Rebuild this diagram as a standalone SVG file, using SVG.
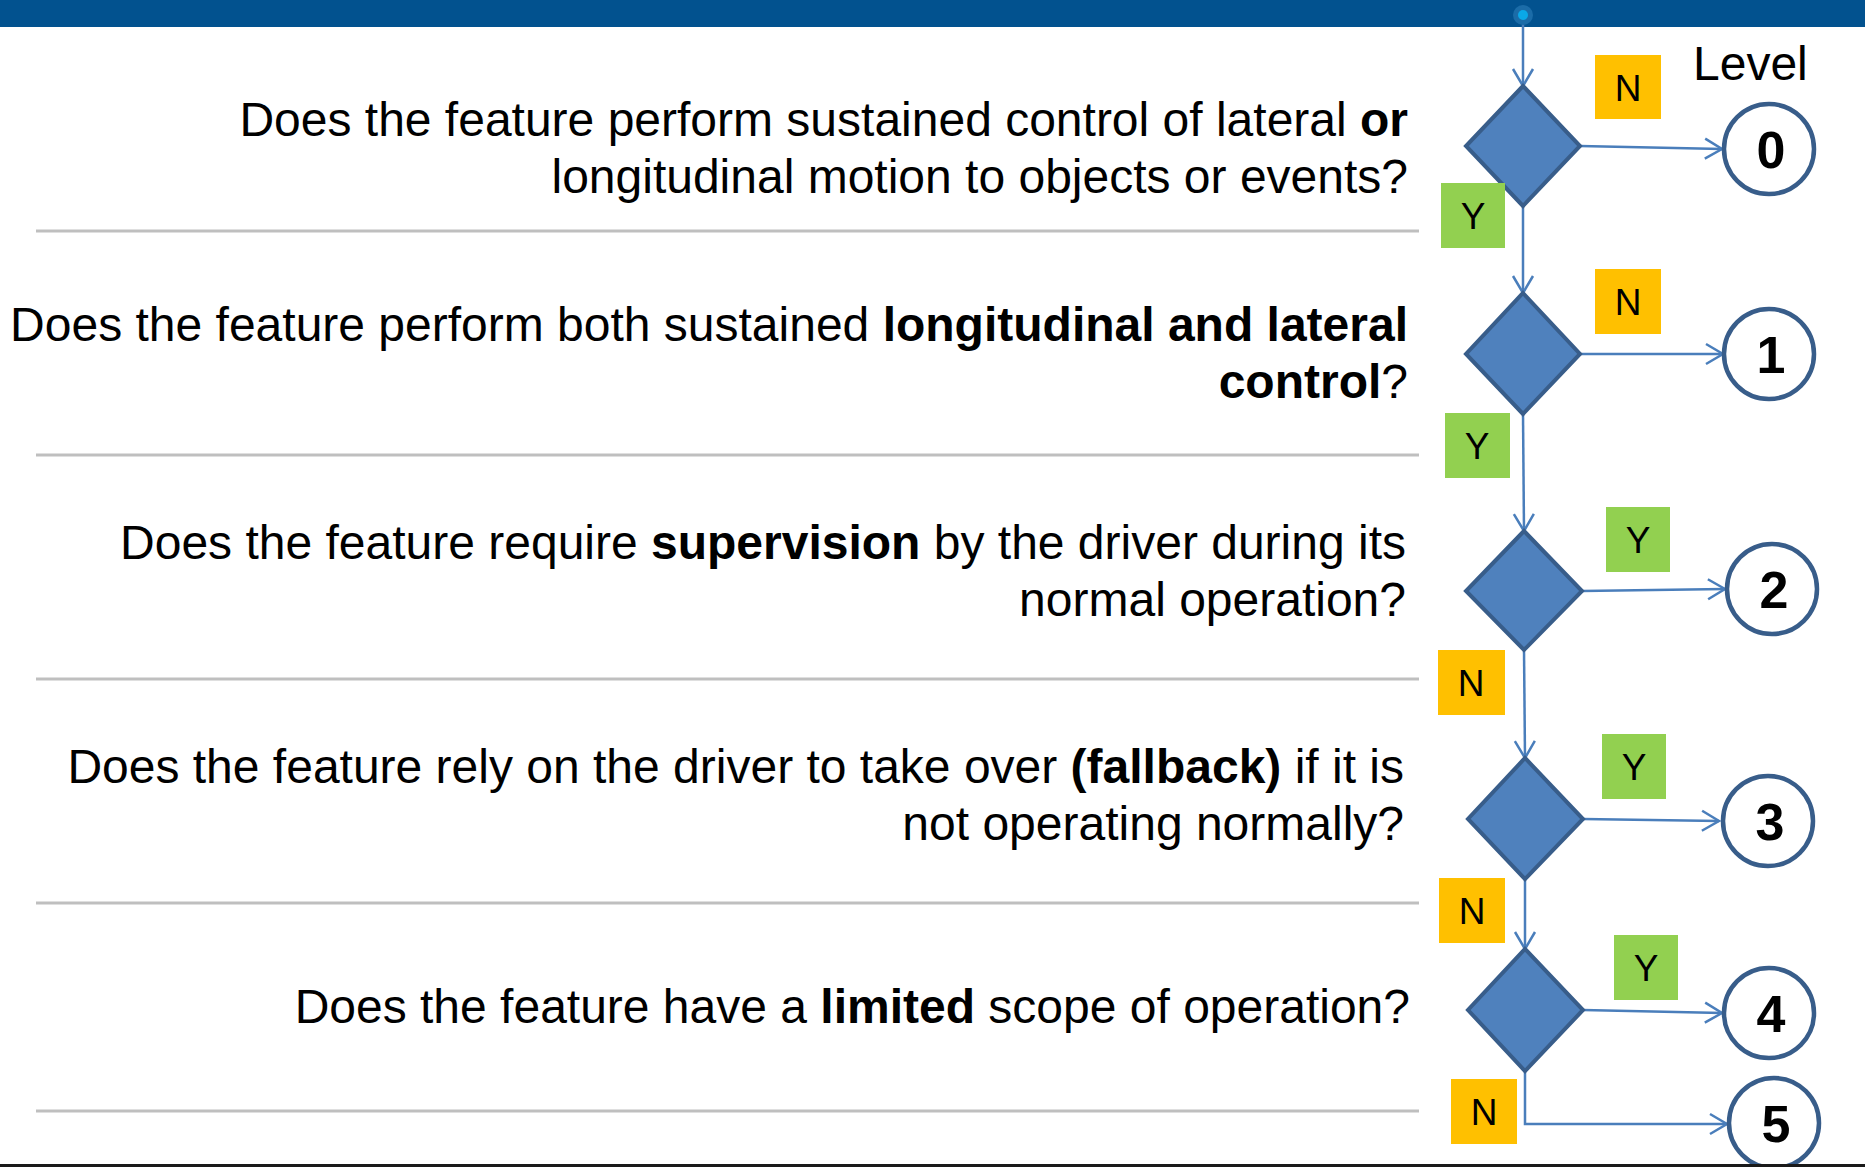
<svg xmlns="http://www.w3.org/2000/svg" width="1865" height="1167" viewBox="0 0 1865 1167">
  <style>
    .q { font-family: "Liberation Sans", Arial, sans-serif; font-size: 48px; fill: #000; text-anchor: end; }
    .b { font-weight: bold; }
    .rule { stroke: #BFBFBF; stroke-width: 3; }
    .dec { fill: #4F81BD; stroke: #385D8A; stroke-width: 4; stroke-linejoin: miter; }
    .lvl { fill: #fff; stroke: #385D8A; stroke-width: 4.5; }
    .num { font-family: "Liberation Sans", Arial, sans-serif; font-size: 52px; font-weight: bold; fill: #000; text-anchor: middle; }
    .tag { font-family: "Liberation Sans", Arial, sans-serif; font-size: 37px; fill: #000; text-anchor: middle; }
    .yes { fill: #92D050; }
    .no { fill: #FFC000; }
    .link { fill: none; stroke: #4A7EBB; stroke-width: 2.5; marker-end: url(#arrow); }
  </style>
  <defs>
    <marker id="arrow" markerUnits="userSpaceOnUse" viewBox="-20 -12 22 24" refX="0" refY="0" markerWidth="22" markerHeight="24" orient="auto">
      <path d="M-17,-10 L0,0 L-17,10" fill="none" stroke="#4A7EBB" stroke-width="2.5"/>
    </marker>
  </defs>

  <rect width="1865" height="1167" fill="#fff"/>
  <!-- header band -->
  <rect x="0" y="0" width="1865" height="27" fill="#02528F"/>
  <!-- footer rule -->
  <rect x="0" y="1164" width="1865" height="3" fill="#1A1A1A"/>

  <!-- row separators -->
  <g id="separators">
    <line class="rule" x1="36" y1="231" x2="1419" y2="231"/>
    <line class="rule" x1="36" y1="455" x2="1419" y2="455"/>
    <line class="rule" x1="36" y1="679" x2="1419" y2="679"/>
    <line class="rule" x1="36" y1="903" x2="1419" y2="903"/>
    <line class="rule" x1="36" y1="1111" x2="1419" y2="1111"/>
  </g>

  <!-- questions -->
  <g id="q1">
    <text class="q" x="1408" y="136">Does the feature perform sustained control of lateral <tspan class="b">or</tspan></text>
    <text class="q" x="1408" y="193">longitudinal motion to objects or events?</text>
  </g>
  <g id="q2">
    <text class="q" x="1408" y="341">Does the feature perform both sustained <tspan class="b">longitudinal and lateral</tspan></text>
    <text class="q" x="1408" y="398"><tspan class="b">control</tspan>?</text>
  </g>
  <g id="q3">
    <text class="q" x="1406" y="559">Does the feature require <tspan class="b">supervision</tspan> by the driver during its</text>
    <text class="q" x="1406" y="616">normal operation?</text>
  </g>
  <g id="q4">
    <text class="q" x="1404" y="783">Does the feature rely on the driver to take over <tspan class="b">(fallback)</tspan> if it is</text>
    <text class="q" x="1404" y="840">not operating normally?</text>
  </g>
  <g id="q5">
    <text class="q" x="1410" y="1023">Does the feature have a <tspan class="b">limited</tspan> scope of operation?</text>
  </g>

  <text id="level-heading" x="1693" y="80" font-family="Liberation Sans, Arial, sans-serif" font-size="48" fill="#000">Level</text>

  <!-- connectors -->
  <g id="connectors">
    <path class="link" d="M1523,15 L1523,86"/>
    <path class="link" d="M1580,146 L1722,149"/>
    <path class="link" d="M1523,206 L1523,293"/>
    <path class="link" d="M1580,354 L1723,354"/>
    <path class="link" d="M1523,414 L1524,531"/>
    <path class="link" d="M1582,591 L1725,589"/>
    <path class="link" d="M1524,650 L1525,758"/>
    <path class="link" d="M1583,819 L1719,821"/>
    <path class="link" d="M1525,879 L1525,949"/>
    <path class="link" d="M1583,1010 L1722,1013"/>
    <path class="link" d="M1525,1071 L1525,1124 L1727,1124"/>
  </g>

  <!-- entry point -->
  <g id="start">
    <circle cx="1523" cy="15" r="10" fill="#1B6CA8"/>
    <circle cx="1523" cy="15" r="5" fill="#0AA8E8"/>
  </g>

  <!-- decisions -->
  <g id="d1"><polygon class="dec" points="1523,86 1580,146 1523,206 1466,146"/></g>
  <g id="d2"><polygon class="dec" points="1523,293 1580,354 1523,414 1466,354"/></g>
  <g id="d3"><polygon class="dec" points="1524,531 1582,591 1524,650 1466,591"/></g>
  <g id="d4"><polygon class="dec" points="1525,758 1583,819 1525,879 1468,819"/></g>
  <g id="d5"><polygon class="dec" points="1525,949 1583,1010 1525,1071 1468,1010"/></g>

  <!-- answer tags -->
  <g id="tag-n1"><rect class="no" x="1595" y="55" width="66" height="64"/><text class="tag" x="1628" y="101">N</text></g>
  <g id="tag-y1"><rect class="yes" x="1441" y="183" width="64" height="65"/><text class="tag" x="1473" y="229">Y</text></g>
  <g id="tag-n2"><rect class="no" x="1595" y="269" width="66" height="65"/><text class="tag" x="1628" y="315">N</text></g>
  <g id="tag-y2"><rect class="yes" x="1445" y="413" width="65" height="65"/><text class="tag" x="1477" y="459">Y</text></g>
  <g id="tag-y3"><rect class="yes" x="1606" y="507" width="64" height="65"/><text class="tag" x="1638" y="553">Y</text></g>
  <g id="tag-n3"><rect class="no" x="1438" y="650" width="67" height="65"/><text class="tag" x="1471" y="696">N</text></g>
  <g id="tag-y4"><rect class="yes" x="1602" y="734" width="64" height="65"/><text class="tag" x="1634" y="780">Y</text></g>
  <g id="tag-n4"><rect class="no" x="1439" y="878" width="66" height="65"/><text class="tag" x="1472" y="924">N</text></g>
  <g id="tag-y5"><rect class="yes" x="1614" y="935" width="64" height="65"/><text class="tag" x="1646" y="981">Y</text></g>
  <g id="tag-n5"><rect class="no" x="1451" y="1079" width="66" height="65"/><text class="tag" x="1484" y="1125">N</text></g>

  <!-- automation levels -->
  <g id="level-0"><circle class="lvl" cx="1769" cy="149" r="45"/><text class="num" x="1771" y="168">0</text></g>
  <g id="level-1"><circle class="lvl" cx="1769" cy="354" r="45"/><text class="num" x="1771" y="373">1</text></g>
  <g id="level-2"><circle class="lvl" cx="1772" cy="589" r="45"/><text class="num" x="1774" y="608">2</text></g>
  <g id="level-3"><circle class="lvl" cx="1768" cy="821" r="45"/><text class="num" x="1770" y="840">3</text></g>
  <g id="level-4"><circle class="lvl" cx="1769" cy="1013" r="45"/><text class="num" x="1771" y="1032">4</text></g>
  <g id="level-5"><circle class="lvl" cx="1774" cy="1123" r="45"/><text class="num" x="1776" y="1142">5</text></g>

  <!-- footer rule drawn over the last level ring -->
  <rect x="0" y="1164" width="1865" height="3" fill="#1A1A1A"/>
</svg>
